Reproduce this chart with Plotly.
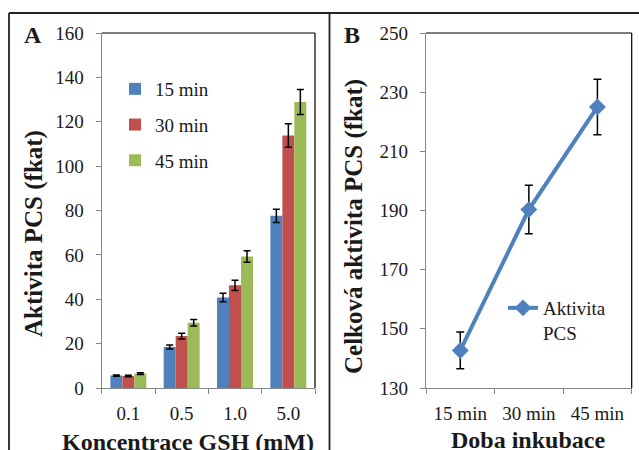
import plotly.graph_objects as go

W, H = 639, 450

def px(x):
    return x / W

def py(y):
    return 1 - y / H

# ---- Data panel A ----
conc = ["0.1", "0.5", "1.0", "5.0"]
series_names = ["15 min", "30 min", "45 min"]
vals_15 = [5.6, 18.5, 40.8, 77.6]
vals_30 = [5.4, 23.4, 46.3, 113.8]
vals_45 = [6.5, 29.4, 59.3, 128.9]
err_15 = [0.3, 0.9, 1.9, 3.0]
err_30 = [0.3, 1.3, 2.3, 5.3]
err_45 = [0.4, 1.5, 2.6, 5.6]
colors = ["#4F81BD", "#C0504D", "#9BBB59"]

# ---- Data panel B ----
times = ["15 min", "30 min", "45 min"]
total_act = [142.7, 190.3, 225.0]
total_err = [6.2, 8.2, 9.4]

yA_ticks = [0, 20, 40, 60, 80, 100, 120, 140, 160]
yB_ticks = [130, 150, 170, 190, 210, 230, 250]

FONT = "Liberation Serif"
TXT = "#1a1a1a"
AX = "#868686"

fig = go.Figure()

for name, v, e, c in zip(series_names, [vals_15, vals_30, vals_45],
                         [err_15, err_30, err_45], colors):
    fig.add_trace(go.Bar(
        x=conc, y=v, name=name, marker=dict(color=c, line=dict(width=0)),
        error_y=dict(type="data", array=e, color="#000000", thickness=1.5, width=3.5),
        xaxis="x", yaxis="y", legend="legend", legendgroup=name,
    ))

fig.add_trace(go.Scatter(
    x=times, y=total_act, name="Aktivita<br>PCS", mode="lines+markers",
    line=dict(color="#4F81BD", width=4),
    marker=dict(symbol="diamond", size=13, color="#4F81BD"),
    error_y=dict(type="data", array=total_err, color="#000000", thickness=1.5, width=4),
    xaxis="x2", yaxis="y2", legend="legend2",
))

dom_y = [py(388), py(33)]

axis_common = dict(
    showgrid=False, zeroline=False, showline=True, linecolor=AX, linewidth=1.3,
    ticks="outside", ticklen=5, tickcolor=AX, tickwidth=1.3, automargin=False,
    tickfont=dict(family=FONT, size=19, color=TXT),
)

fig.update_layout(
    width=W, height=H, margin=dict(l=0, r=0, t=0, b=0, autoexpand=False),
    paper_bgcolor="white", plot_bgcolor="white",
    barmode="group", bargap=0.325, bargroupgap=0,
    xaxis=dict(domain=[px(101.7), px(315)], anchor="y", type="category",
               range=[-0.5, len(conc) - 0.5],
               tickson="boundaries", ticklabelstandoff=8, **axis_common),
    yaxis=dict(domain=dom_y, anchor="x", range=[0, 160], tickvals=yA_ticks,
               ticklabelstandoff=8, **axis_common),
    xaxis2=dict(domain=[px(426), px(631.7)], anchor="y2", type="category",
                range=[-0.5, len(times) - 0.5],
                tickson="boundaries", ticklabelstandoff=8, **axis_common),
    yaxis2=dict(domain=dom_y, anchor="x2", range=[130, 250], tickvals=yB_ticks,
                ticklabelstandoff=8, **axis_common),
    legend=dict(x=px(115), y=py(70), xanchor="left", yanchor="top",
                font=dict(family=FONT, size=19, color=TXT),
                bgcolor="rgba(0,0,0,0)", tracegroupgap=8, traceorder="grouped"),
    legend2=dict(x=px(503), y=py(289), xanchor="left", yanchor="top",
                 font=dict(family=FONT, size=19, color=TXT), valign="top",
                 bgcolor="rgba(0,0,0,0)"),
    showlegend=True,
)

shapes = [
    # outer frame
    dict(type="line", xref="paper", yref="paper", x0=px(9), x1=px(9), y0=py(13), y1=0,
         line=dict(color="#222222", width=1.8)),
    dict(type="line", xref="paper", yref="paper", x0=px(9), x1=1, y0=py(13), y1=py(13),
         line=dict(color="#222222", width=1.8)),
    dict(type="line", xref="paper", yref="paper", x0=px(329.5), x1=px(329.5), y0=py(13), y1=0,
         line=dict(color="#222222", width=1.8)),
    # plot area borders (top/right)
    dict(type="line", xref="paper", yref="paper", x0=px(101.7), x1=px(315), y0=py(33), y1=py(33),
         line=dict(color="#000000", width=1.2)),
    dict(type="line", xref="paper", yref="paper", x0=px(315), x1=px(315), y0=py(33), y1=py(388),
         line=dict(color="#000000", width=1.2)),
    dict(type="line", xref="paper", yref="paper", x0=px(426), x1=px(631.7), y0=py(33), y1=py(33),
         line=dict(color="#000000", width=1.2)),
    dict(type="line", xref="paper", yref="paper", x0=px(631.7), x1=px(631.7), y0=py(33), y1=py(388),
         line=dict(color="#000000", width=1.2)),
]
fig.update_layout(shapes=shapes)

bold_y = dict(family=FONT, size=25, color=TXT)
bold_x = dict(family=FONT, size=24, color=TXT)
ann = [
    dict(text="<b>A</b>", x=px(33), y=py(35), xref="paper", yref="paper", showarrow=False,
         font=dict(family=FONT, size=24, color=TXT), xanchor="center", yanchor="middle"),
    dict(text="<b>B</b>", x=px(352), y=py(35), xref="paper", yref="paper", showarrow=False,
         font=dict(family=FONT, size=24, color=TXT), xanchor="center", yanchor="middle"),
    dict(text="<b>Aktivita PCS (fkat)</b>", x=px(34), y=py(234), xref="paper", yref="paper",
         showarrow=False, textangle=-90, font=bold_y, xanchor="center", yanchor="middle"),
    dict(text="<b>Celková aktivita PCS (fkat)</b>", x=px(354), y=py(227), xref="paper",
         yref="paper", showarrow=False, textangle=-90, font=bold_y, xanchor="center",
         yanchor="middle"),
    dict(text="<b>Koncentrace GSH (mM)</b>", x=px(187.5), y=py(427), xref="paper",
         yref="paper", showarrow=False, font=bold_x, xanchor="center", yanchor="top"),
    dict(text="<b>Doba inkubace</b>", x=px(528.3), y=py(425), xref="paper",
         yref="paper", showarrow=False, font=bold_x, xanchor="center", yanchor="top"),
]
fig.update_layout(annotations=ann)

fig.write_html("out.html")
